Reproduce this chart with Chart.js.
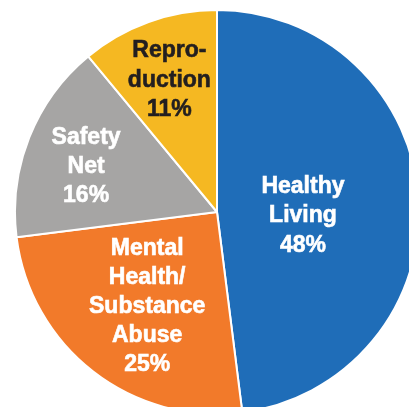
<!DOCTYPE html>
<html>
<head>
<meta charset="utf-8">
<script src="https://cdn.jsdelivr.net/npm/chart.js@4/dist/chart.umd.min.js"></script>
<style>
  html, body { margin: 0; padding: 0; background: #ffffff; width: 409px; height: 407px; overflow: hidden; }
  #wrap { position: absolute; left: 13.5px; top: 9px; width: 406px; height: 406px; }
</style>
</head>
<body>
<div id="wrap"><canvas id="c"></canvas></div>
<script>
// Data
const categories = ["Healthy Living", "Mental Health/Substance Abuse", "Safety Net", "Reproduction"];
const values = [48, 25, 16, 11];
const labelLines = [
  ["Healthy", "Living", "48%"],
  ["Mental", "Health/", "Substance", "Abuse", "25%"],
  ["Safety", "Net", "16%"],
  ["Repro-", "duction", "11%"]
];

// Styles
const colors = ["#1f6db8", "#f27a2a", "#a6a5a4", "#f5b822"];
const textColors = ["#ffffff", "#ffffff", "#ffffff", "#231f20"];
// label placement relative to each arc: angle offset from mid-angle (deg) and radius fraction
const labelPlacement = [
  { dAngle: 6.3, frac: 0.426 },
  { dAngle: -1.35, frac: 0.582 },
  { dAngle: -2.45, frac: 0.686 },
  { dAngle: -0.07, frac: 0.694 }
];

const sliceLabels = {
  id: 'sliceLabels',
  afterDatasetsDraw(chart) {
    const ctx = chart.ctx;
    const meta = chart.getDatasetMeta(0);
    ctx.save();
    ctx.font = "bold 23px 'Liberation Sans', Arial, sans-serif";
    ctx.textAlign = 'center';
    ctx.textBaseline = 'middle';
    meta.data.forEach((arc, i) => {
      const p = arc.getProps(['x', 'y', 'startAngle', 'endAngle', 'outerRadius'], true);
      const mid = (p.startAngle + p.endAngle) / 2 + labelPlacement[i].dAngle * Math.PI / 180;
      const r = p.outerRadius * labelPlacement[i].frac;
      const cx = p.x + Math.cos(mid) * r;
      const cy = p.y + Math.sin(mid) * r;
      const lines = labelLines[i];
      const lh = 29.2;
      const y0 = cy - (lines.length - 1) * lh / 2;
      ctx.fillStyle = textColors[i];
      ctx.strokeStyle = textColors[i];
      ctx.lineWidth = 0.6;
      lines.forEach((t, k) => { ctx.fillText(t, cx, y0 + k * lh); ctx.strokeText(t, cx, y0 + k * lh); });
    });
    ctx.restore();
  }
};

new Chart(document.getElementById('c'), {
  type: 'pie',
  data: {
    labels: categories,
    datasets: [{
      data: values,
      backgroundColor: colors,
      borderColor: '#ffffff',
      borderWidth: 2
    }]
  },
  options: {
    responsive: true,
    maintainAspectRatio: false,
    animation: false,
    events: [],
    layout: { padding: 0 },
    plugins: {
      legend: { display: false },
      tooltip: { enabled: false }
    }
  },
  plugins: [sliceLabels]
});
</script>
</body>
</html>
